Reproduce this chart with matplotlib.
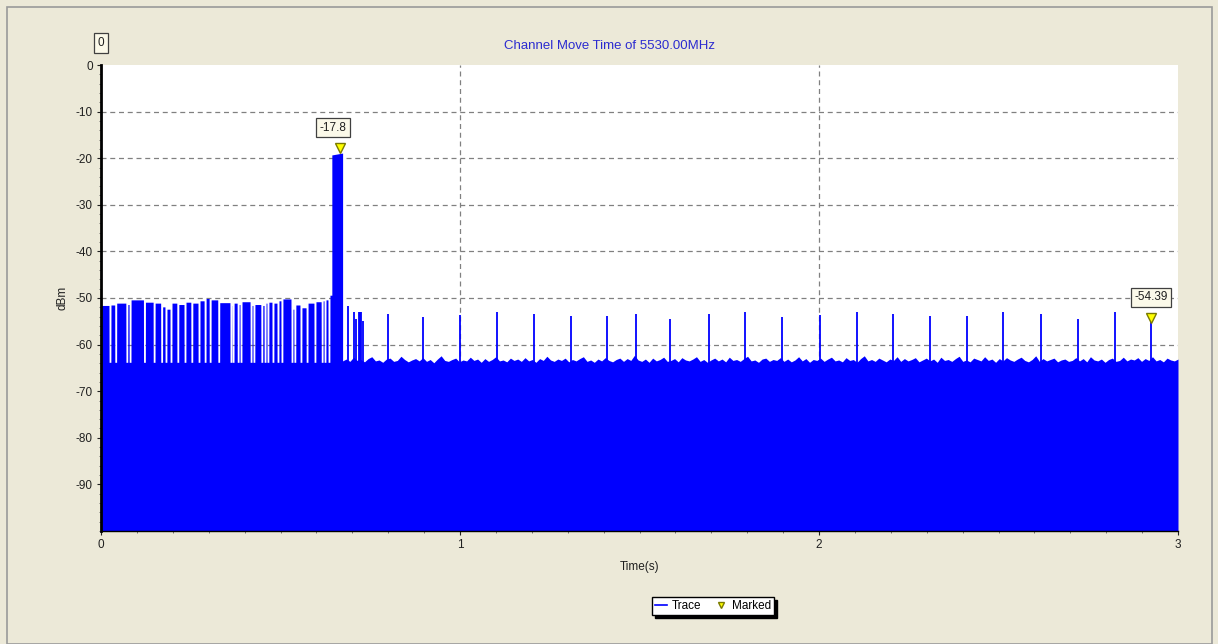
import numpy as np
import matplotlib
matplotlib.use("Agg")
import matplotlib.pyplot as plt
from matplotlib.lines import Line2D
from matplotlib.patches import Rectangle

plt.rcParams['font.family'] = ['Liberation Sans', 'DejaVu Sans']
plt.rcParams['axes.unicode_minus'] = False

# --- data (time in s, level in dBm) ---
# bursty traffic before the channel move: short dips and the level between them
burst_dips = [0.025, 0.041, 0.072, 0.081, 0.121, 0.148, 0.169, 0.181, 0.195, 0.214,
              0.234, 0.253, 0.273, 0.290, 0.304, 0.328, 0.362, 0.368, 0.382, 0.390,
              0.418, 0.426, 0.448, 0.457, 0.465, 0.479, 0.493, 0.504, 0.532, 0.540,
              0.557, 0.574, 0.596, 0.616, 0.624, 0.635]
burst_levels = [-51.6, -51.5, -51.1, -51.4, -50.4, -50.9, -51.1, -51.9, -52.4, -51.1,
                -51.4, -50.9, -51.1, -50.6, -50.1, -50.4, -51.0, -51.6, -51.1, -51.4,
                -50.8, -51.6, -51.4, -51.6, -51.1, -50.9, -51.1, -50.6, -50.2, -52.4,
                -51.5, -52.1, -51.1, -50.8, -50.6, -50.4, -49.4]
dip_level = -63.8

# channel switch announcement pulse
pulse_t = [0.643, 0.673]
pulse_db = [-19.3, -18.9]

# noise floor after the move
floor_start, floor_end = 0.673, 3.0
floor_db = [
    -63.5, -63.1, -63.6, -62.7, -63.4, -63.2, -63.7, -63.0, -62.6, -63.5,
    -63.3, -63.8, -63.1, -62.9, -63.6, -63.4, -62.5, -63.2, -63.7, -63.3,
    -63.0, -63.5, -62.8, -63.6, -63.2, -63.9, -63.1, -62.4, -63.4, -63.6,
    -63.2, -62.9, -63.7, -63.3, -63.5, -62.7, -63.4, -63.1, -63.8, -63.0,
    -63.6, -63.2, -62.6, -63.5, -63.3, -63.7, -62.9, -63.4, -63.1, -63.6,
    -62.8, -63.5, -63.2, -63.8, -63.0, -63.4, -62.5, -63.3, -63.6, -63.1,
    -63.4, -62.9, -63.7, -63.2, -63.5, -63.0, -62.6, -63.6, -63.3, -63.8,
    -63.1, -63.5, -62.8, -63.4, -63.7, -63.2, -62.9, -63.6, -63.0, -63.4,
    -62.3, -63.3, -63.6, -63.1, -63.8, -62.9, -63.5, -63.2, -62.7, -63.6,
    -63.4, -63.0, -63.7, -62.8, -63.3, -63.5, -63.1, -62.6, -63.6, -63.2,
    -63.8, -63.3, -62.9, -63.5, -63.1, -63.7, -62.7, -63.4, -63.2, -63.6,
    -63.0, -62.5, -63.5, -63.3, -63.8, -63.1, -62.9, -63.6, -63.2, -63.4,
    -62.8, -63.6, -63.1, -63.7, -63.3, -62.6, -63.5, -63.0, -63.8, -63.2,
    -63.4, -62.9, -63.6, -63.1, -62.7, -63.5, -63.3, -63.7, -62.8, -63.4,
    -63.2, -63.8, -63.0, -62.4, -63.5, -63.2, -63.6, -62.9, -63.3, -63.7,
    -63.1, -63.4, -62.6, -63.6, -63.0, -63.5, -63.2, -62.8, -63.7, -63.3,
    -62.9, -63.5, -63.1, -63.8, -62.7, -63.4, -63.2, -63.6, -63.0, -62.5,
    -63.6, -63.3, -63.7, -62.9, -63.2, -63.5, -62.6, -63.4, -63.1, -63.8,
    -63.0, -63.5, -62.8, -63.3, -63.6, -63.1, -62.7, -63.4, -63.7, -63.2,
    -62.4, -63.6, -63.0, -63.5, -63.2, -62.9, -63.7, -63.3, -63.1, -63.6,
    -63.4, -62.8, -63.5, -63.0, -63.7, -62.6, -63.3, -63.5, -63.1, -63.8,
    -63.2, -62.9, -63.6, -63.4, -62.7, -63.5, -63.1, -63.3, -62.8, -63.6,
    -63.0, -63.4, -62.6, -63.5, -63.2, -63.7, -62.9, -63.3, -63.5, -63.1]

# beacons and stray frames on the new channel
spike_t = [0.689, 0.706, 0.710, 0.718, 0.721, 0.725, 0.729, 0.799, 0.896, 1.001,
           1.103, 1.206, 1.308, 1.410, 1.489, 1.585, 1.694, 1.795, 1.897, 2.003,
           2.105, 2.207, 2.309, 2.411, 2.513, 2.618, 2.721, 2.824, 2.925]
spike_db = [-51.7, -53.0, -54.5, -53.0, -53.0, -53.0, -55.0, -53.4, -54.1, -53.7,
            -53.0, -53.4, -53.9, -53.9, -53.4, -54.5, -53.4, -53.1, -54.1, -53.7,
            -53.0, -53.4, -53.9, -53.9, -53.1, -53.4, -54.5, -53.1, -54.39]

# markers
mark_t = [0.665, 2.925]
mark_db = [-17.8, -54.39]
mark_text = ["-17.8", "-54.39"]

BG = '#ECE9D8'
BLUE = '#0000FF'


def build_trace():
    """Builds the outline of the swept trace from the pieces above."""
    t, db = [], []
    edges = [0.0] + burst_dips + [pulse_t[0]]
    half = 0.0025
    for i, lvl in enumerate(burst_levels):
        a, b = edges[i], edges[i + 1]
        if i > 0:
            a += half + 0.0003
        b_end = b - half - 0.0003 if i < len(burst_levels) - 1 else b
        t += [a, b_end]
        db += [lvl, lvl]
        if i < len(burst_dips):
            t += [b - half, b + half]
            db += [dip_level, dip_level]
    t += [pulse_t[0], pulse_t[1]]
    db += [pulse_db[0], pulse_db[1]]
    ft = np.linspace(floor_start, floor_end, len(floor_db))
    t += list(ft)
    db += floor_db
    return np.array(t), np.array(db)


fig = plt.figure(figsize=(12.18, 6.44), dpi=100, facecolor=BG)
fig.patches.append(Rectangle((7 / 1218, 0.0), 1205 / 1218, 1 - 7 / 644,
                             transform=fig.transFigure, fill=False,
                             edgecolor='#9A9A9A', linewidth=1.2))

ax = fig.add_axes([101 / 1218, 1 - 531 / 644, 1077 / 1218, 466 / 644])
ax.set_facecolor('white')

# dashed grid under the trace
for y in range(-90, 0, 10):
    ax.axhline(y, color='#808080', linestyle=(0, (4, 3)), linewidth=0.9, zorder=0)
for x in (1, 2):
    ax.axvline(x, color='#808080', linestyle=(0, (4, 3)), linewidth=0.9, zorder=0)

t, db = build_trace()
ax.fill_between(t, -100, db, color=BLUE, linewidth=0, zorder=2)
ax.vlines(spike_t, -100, spike_db, color=BLUE, linewidth=1.3, zorder=2)

ax.plot(mark_t, mark_db, linestyle='none', marker='v', markersize=7,
        markerfacecolor='#FFFF00', markeredgecolor='#7A7A00', zorder=4)
offsets = [(-7, 20), (0, 21)]
for mt, md, txt, off in zip(mark_t, mark_db, mark_text, offsets):
    ax.annotate(txt, xy=(mt, md), xytext=off, textcoords='offset pixels',
                ha='center', va='center', fontsize=8.5, color='#202020', zorder=5,
                bbox=dict(boxstyle='square,pad=0.3', facecolor='#FBF9E9',
                          edgecolor='#404040', linewidth=0.9))
ax.annotate("0", xy=(0, 0), xytext=(0, 22), textcoords='offset pixels',
            ha='center', va='center', fontsize=8.5, color='#202020',
            annotation_clip=False,
            bbox=dict(boxstyle='square,pad=0.3', facecolor='#FBF9E9',
                      edgecolor='#404040', linewidth=0.9))

ax.set_xlim(0, 3)
ax.set_ylim(-100, 0)
ax.set_xticks([0, 1, 2, 3])
ax.set_xticks(np.arange(0, 3.01, 0.1), minor=True)
ax.set_yticks(np.arange(-90, 1, 10))
ax.set_yticks(np.arange(-100, 1, 2), minor=True)
ax.tick_params(axis='both', which='major', direction='out', length=3, width=0.8,
               labelsize=8.5, colors='#202020', pad=3)
ax.tick_params(axis='both', which='minor', direction='out', length=1.5, width=0.6,
               colors='#606060')

for side in ('top', 'right'):
    ax.spines[side].set_visible(False)
ax.spines['left'].set_linewidth(2.0)
ax.spines['bottom'].set_linewidth(1.0)
ax.spines['left'].set_zorder(6)
ax.spines['bottom'].set_zorder(6)

ax.set_xlabel("Time(s)", fontsize=8.5, color='#202020', labelpad=7)
ax.set_ylabel("dBm", fontsize=8.5, color='#202020', labelpad=5)

fig.text(0.5, 1 - 46 / 644, "Channel Move Time of 5530.00MHz", ha='center', va='center',
         fontsize=9.5, color='#2B2BD0')

handles = [Line2D([], [], color=BLUE, linewidth=1.2),
           Line2D([], [], linestyle='none', marker='v', markersize=5,
                  markerfacecolor='#FFFF00', markeredgecolor='#7A7A00')]
fig.legend(handles, ["Trace", "Marked"], loc='center', ncol=2,
           bbox_to_anchor=(713 / 1218, 1 - 606 / 644), fontsize=8.5,
           frameon=True, fancybox=False, edgecolor='black', facecolor='white',
           framealpha=1, handlelength=1.0, handletextpad=0.4, columnspacing=1.2,
           borderpad=0.25, shadow={'color': 'black', 'alpha': 1})

fig.savefig("out.png", dpi=100, facecolor=BG)
